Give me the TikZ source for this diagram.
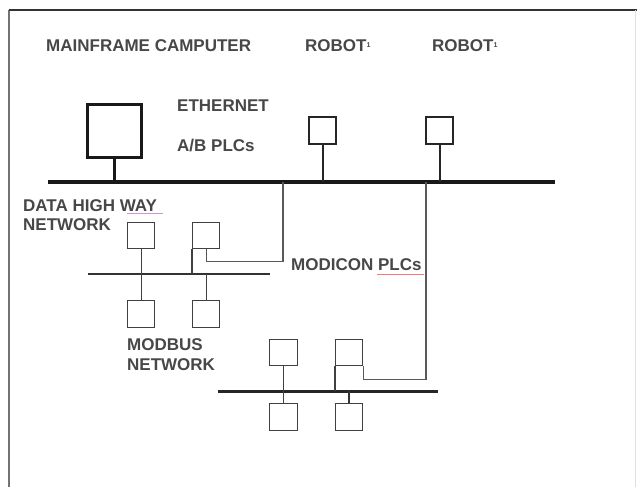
\documentclass[tikz,border=0pt]{standalone}
\usepackage{fontspec}
\setmainfont{Liberation Sans}
\begin{document}
\begin{tikzpicture}[x=1pt,y=-1pt,
  lbl/.style={anchor=west,inner sep=0pt,text=black!72,font=\fontsize{17}{19}\selectfont\bfseries},
  sbox/.style={draw=black!75,line width=1.3pt,minimum width=27pt,minimum height=26pt,inner sep=0pt,anchor=north west},
  rbox/.style={draw=black!85,line width=2pt,minimum width=27pt,minimum height=27pt,inner sep=0pt,anchor=north west},
  mbox/.style={draw=black!90,line width=2.6pt,minimum width=54pt,minimum height=53pt,inner sep=0pt,anchor=north west},
  mainbus/.style={line width=4pt,black!90},
  subbus/.style={line width=2.2pt,black!80},
  stem/.style={line width=1.3pt,black!75},
  thinlink/.style={line width=1.2pt,black!65},
  spell/.style={line width=0.6pt}
]
\useasboundingbox (0,0) rectangle (637,487);
% frame
\draw[line width=2pt,black!55] (8.5,487) -- (8.5,10);
\draw[line width=2pt,black!80] (8.5,10) -- (637,10);
\draw[line width=0.8pt,black!12] (635,10) -- (635,487);

% labels
\node[lbl] (tmf) at (46,46) {MAINFRAME CAMPUTER};
\node[lbl] (tr1) at (305,46) {ROBOT\raisebox{0.5ex}{\fontsize{7}{8}\selectfont 1}};
\node[lbl] (tr2) at (432,46) {ROBOT\raisebox{0.5ex}{\fontsize{7}{8}\selectfont 1}};
\node[lbl] (teth) at (177,106) {ETHERNET};
\node[lbl] (tab) at (177,146) {A/B PLCs};
\node[lbl] (tdh1) at (23,206) {DATA HIGH WAY};
\node[lbl] (tdh2) at (23,225) {NETWORK};
\node[lbl] (tmb1) at (127,345) {MODBUS};
\node[lbl] (tmb2) at (127,365) {NETWORK};
\node[lbl] (tmod) at (291,265) {MODICON PLCs};
\draw[spell,violet!40] (127,213.5) -- (163,213.5);
\draw[spell,red!55] (377,274) -- (424,274);

% boxes
\node[mbox] (mf) at (86,103) {};
\node[rbox] (r1) at (308,116) {};
\node[rbox] (r2) at (425,116) {};
\node[sbox] (a1) at (127,222) {};
\node[sbox] (a2) at (192,222) {};
\node[sbox,minimum height=27pt] (a3) at (127,300) {};
\node[sbox,minimum height=27pt] (a4) at (192,300) {};
\node[sbox,minimum width=28pt] (b1) at (269,339) {};
\node[sbox] (b2) at (335,339) {};
\node[sbox,minimum width=28pt,minimum height=27pt] (b3) at (269,403) {};
\node[sbox,minimum height=27pt] (b4) at (335,403) {};

% buses
\coordinate (e1) at (48,182);
\coordinate (e2) at (555,182);
\coordinate (d1) at (88,274);
\coordinate (d2) at (270,274);
\coordinate (m1) at (218,391);
\coordinate (m2) at (438,391);
\coordinate (t1) at (283,182);
\coordinate (t2) at (426,182);
\draw[mainbus] (e1) -- (e2);
\draw[subbus] (d1) -- (d2);
\draw[line width=3pt,black!85] (m1) -- (m2);

% ethernet drops
\draw[line width=2.6pt,black!90] (mf.south) -- (mf.south |- e1);
\draw[line width=2pt,black!85] (r1.south) -- (r1.south |- e1);
\draw[line width=2pt,black!85] (r2.south) -- (r2.south |- e1);

% links from ethernet to sub networks
\draw[thinlink] (t1) |- ([yshift=-12pt]a2.south) -- (a2.south);
\draw[thinlink] (t2) |- ([yshift=-13pt]b2.south east) -- (b2.south east);

% data highway drops
\draw[stem] (a1.south) -- (a3.north);
\draw[stem] (a2.south west) -- (a2.south west |- d1);
\draw[stem] (a4.north) -- (a4.north |- d1);

% modbus drops
\draw[stem] (b1.south) -- (b3.north);
\draw[stem] (b2.south west) -- (b2.south west |- m1);
\draw[line width=2pt,black!80] (b4.north) -- (b4.north |- m1);
\end{tikzpicture}
\end{document}
